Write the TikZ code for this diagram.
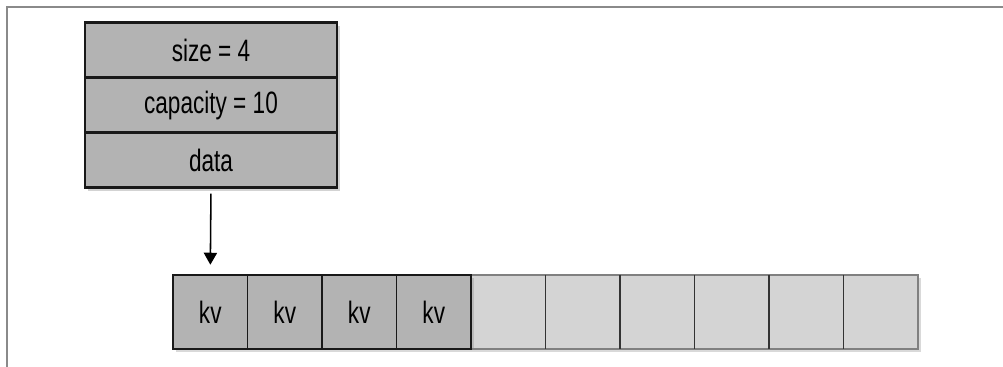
\documentclass[tikz,border=0pt]{standalone}
\usepackage{fontspec}
\setmainfont{Liberation Sans}[FakeStretch=0.73]
\usetikzlibrary{arrows.meta,positioning,shadows}

\definecolor{cellfull}{HTML}{B3B3B3}
\definecolor{cellfree}{HTML}{D4D4D4}
\definecolor{framegray}{HTML}{8A8A8A}

\tikzset{
  field/.style={
    draw=black!90, line width=1.6pt, fill=cellfull,
    minimum width=6.3cm, minimum height=1.375cm,
    outer sep=0pt, inner sep=0pt,
    font=\fontsize{22}{24}\selectfont,
    drop shadow={shadow xshift=0.08cm, shadow yshift=-0.08cm, opacity=0.35}
  },
  slot/.style={
    line width=1.4pt, minimum size=1.8625cm,
    outer sep=0pt, inner sep=0pt,
    font=\fontsize{22}{24}\selectfont,
    drop shadow={shadow xshift=0.08cm, shadow yshift=-0.08cm, opacity=0.3}
  },
  used/.style={slot, draw=black!90, fill=cellfull},
  unused/.style={slot, draw=black!50, fill=cellfree}
}

\begin{document}
\begin{tikzpicture}[x=0.025cm, y=-0.025cm]
  \useasboundingbox (0,0) rectangle (1003,367);

  % Rahmen
  \draw[framegray, line width=1.3pt] (7,367) -- (7,7) -- (1003,7);

  % Vektor-Kopf
  \node[field] (size) at (211,50) {size = 4};
  \node[field, below=0pt of size] (cap) {capacity = 10};
  \node[field, below=0pt of cap] (data) {data};

  % freie Plaetze
  \foreach \i in {5,...,10}
    \node[unused] (c\i) at ({173+74.5*(\i-0.5)},312) {};

  % belegte Plaetze
  \foreach \i in {1,...,4}
    \node[used] (c\i) at ({173+74.5*(\i-0.5)},312) {kv};

  % Trennlinien
  \foreach \i in {6,...,10}
    \draw[black!80, line width=1.4pt] (c\i.north west) -- (c\i.south west);

  % Zeiger
  \draw[line width=1.1pt, -{Triangle[width=0.33cm, length=0.3cm]},
        shorten <=0.15cm, shorten >=0.25cm]
    (data.south) -- (c1.north);
\end{tikzpicture}
\end{document}
